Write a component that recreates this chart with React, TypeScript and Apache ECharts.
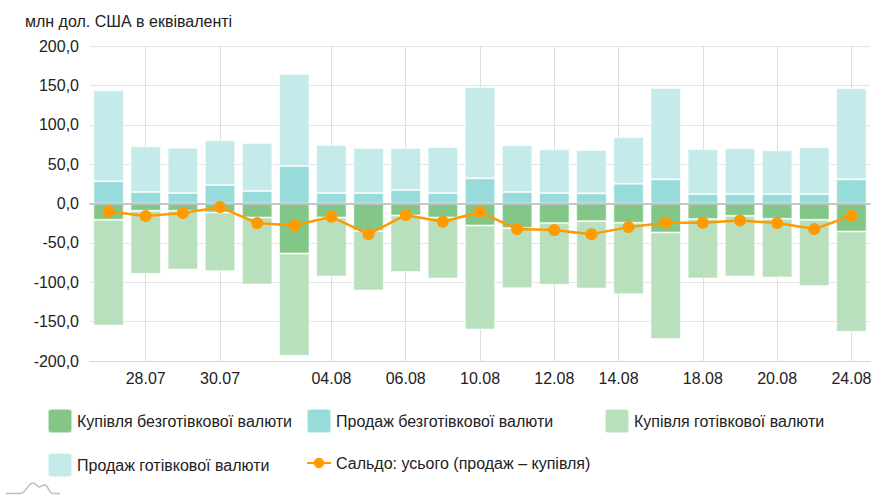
import React, { useEffect, useRef } from "react";
import * as echarts from "echarts";

const categories = [
  "27.07", "28.07", "29.07", "30.07", "31.07", "03.08", "04.08", "05.08", "06.08", "07.08",
  "10.08", "11.08", "12.08", "13.08", "14.08", "17.08", "18.08", "19.08", "20.08", "21.08", "24.08",
];

const noncashBuy = [
  -20.7, -9.3, -9.3, -11.4, -17.8, -63.5, -17.8, -34.7, -15.2, -17.8,
  -27.9, -31.3, -24.9, -22.4, -24.5, -36.8, -19.8, -15.6, -19.4, -20.7, -35.6,
];
const noncashSale = [
  28.2, 14.6, 13.3, 23.5, 15.9, 47.6, 13.3, 13.3, 17.1, 13.3,
  32.0, 14.6, 13.3, 12.9, 25.1, 30.7, 12.1, 12.1, 12.1, 12.1, 30.7,
];
const cashBuy = [
  -134.2, -80.0, -74.5, -74.5, -85.1, -129.9, -74.9, -75.8, -71.9, -77.4,
  -132.1, -76.2, -78.3, -85.5, -90.6, -135.4, -75.4, -77.1, -74.5, -84.2, -127.3,
];
const cashSale = [
  115.5, 58.0, 57.6, 56.7, 60.9, 116.8, 61.0, 57.2, 53.4, 58.4,
  115.9, 59.3, 55.5, 55.0, 59.0, 116.0, 57.1, 58.0, 55.4, 59.3, 115.6,
];
const saldo = [
  -10.2, -16.0, -12.2, -4.6, -24.9, -27.9, -16.9, -38.9, -14.7, -23.2,
  -10.9, -32.5, -33.8, -38.9, -30.0, -24.5, -24.5, -21.6, -24.9, -32.5, -15.6,
];

// x-axis tick labels and the axis values (category index scale) where they sit
const xTickLabels = ["28.07", "30.07", "04.08", "06.08", "10.08", "12.08", "14.08", "18.08", "20.08", "24.08"];
const xTickValues = [1, 3, 6, 8, 10, 12, 13.73, 16, 18, 20];

const seriesNames = [
  "Купівля безготівкової валюти",
  "Продаж безготівкової валюти",
  "Купівля готівкової валюти",
  "Продаж готівкової валюти",
  "Сальдо: усього (продаж – купівля)",
];

const FONT = "'Liberation Sans', Arial, sans-serif";
const TEXT = "#222";
const SQUARE =
  "path://M3,0 H21 A3,3 0 0 1 24,3 V21 A3,3 0 0 1 21,24 H3 A3,3 0 0 1 0,21 V3 A3,3 0 0 1 3,0 Z";

let logoRegistered = false;

export default function App() {
  const ref = useRef<HTMLDivElement>(null);

  useEffect(() => {
    if (!ref.current) return;
    if (!logoRegistered) {
      echarts.graphic.registerShape(
        "logo",
        echarts.graphic.extendPath(
          "M6 23.5 L20 23.5 C26 23.5 28 13 33 13 C36 13 37 17 39 17 C41 17 42 15 45 15 C48 15 49 23.5 53 23.5 L60 23.5",
          {}
        )
      );
      logoRegistered = true;
    }
    const chart = echarts.init(ref.current, null, { renderer: "svg" });

    const legendBase = {
      padding: 0,
      itemWidth: 24,
      itemHeight: 24,
      selectedMode: false,
      textStyle: { fontSize: 16, color: TEXT, fontFamily: FONT },
    };

    const barBorder = { borderColor: "rgba(255,255,255,0.55)", borderWidth: 1 };

    chart.setOption({
      animation: false,
      textStyle: { fontFamily: FONT },
      title: {
        text: "млн дол. США в еквіваленті",
        left: 25,
        top: 13,
        padding: 0,
        textStyle: { fontSize: 16, fontWeight: "normal", color: TEXT, fontFamily: FONT },
      },
      legend: [
        { ...legendBase, left: 47, top: 408, data: [{ name: seriesNames[0], icon: SQUARE }] },
        { ...legendBase, left: 306, top: 408, data: [{ name: seriesNames[1], icon: SQUARE }] },
        { ...legendBase, left: 604, top: 408, data: [{ name: seriesNames[2], icon: SQUARE }] },
        { ...legendBase, left: 47, top: 452, data: [{ name: seriesNames[3], icon: SQUARE }] },
        { ...legendBase, left: 306, top: 455, itemHeight: 13, data: [{ name: seriesNames[4] }] },
      ],
      grid: { left: 90, right: 21, top: 46, bottom: 139, containLabel: false },
      xAxis: [
        {
          type: "category",
          data: categories,
          z: 4,
          axisLine: { show: true, onZero: true, lineStyle: { color: "rgba(190,190,190,0.85)", width: 2 } },
          axisTick: { show: false },
          axisLabel: { show: false },
          splitLine: { show: false },
        },
        {
          type: "value",
          position: "bottom",
          min: -0.5,
          max: 20.5,
          axisLine: { show: true, onZero: false, lineStyle: { color: "#d6d6d6", width: 1 } },
          axisTick: { show: false, customValues: xTickValues },
          axisLabel: {
            customValues: xTickValues,
            margin: 9,
            fontSize: 16,
            color: TEXT,
            fontFamily: FONT,
            formatter: (v: number) => {
              const i = xTickValues.findIndex((t) => Math.abs(t - v) < 1e-6);
              return i >= 0 ? xTickLabels[i] : "";
            },
          },
          splitLine: { show: true, lineStyle: { color: "#dedede", width: 1 } },
        },
      ],
      yAxis: {
        type: "value",
        min: -200,
        max: 200,
        interval: 50,
        axisLine: { show: false },
        axisTick: { show: false },
        axisLabel: {
          margin: 11,
          fontSize: 16,
          color: TEXT,
          fontFamily: FONT,
          formatter: (v: number) => v.toFixed(1).replace(".", ","),
        },
        splitLine: { lineStyle: { color: "#e3e3e3", width: 1 } },
      },
      series: [
        {
          name: seriesNames[0],
          type: "bar",
          stack: "total",
          barCategoryGap: "18%",
          data: noncashBuy,
          itemStyle: { color: "#83c788", ...barBorder },
          z: 2,
        },
        {
          name: seriesNames[1],
          type: "bar",
          stack: "total",
          barCategoryGap: "18%",
          data: noncashSale,
          itemStyle: { color: "#98dbdb", ...barBorder },
          z: 2,
        },
        {
          name: seriesNames[2],
          type: "bar",
          stack: "total",
          barCategoryGap: "18%",
          data: cashBuy,
          itemStyle: { color: "#b8e0bc", ...barBorder },
          z: 2,
        },
        {
          name: seriesNames[3],
          type: "bar",
          stack: "total",
          barCategoryGap: "18%",
          data: cashSale,
          itemStyle: { color: "#c4eaea", ...barBorder },
          z: 2,
        },
        {
          name: seriesNames[4],
          type: "line",
          data: saldo,
          symbol: "circle",
          symbolSize: 12,
          lineStyle: { color: "#ff9a00", width: 2.5 },
          itemStyle: { color: "#ff9a00" },
          z: 6,
        },
      ],
      graphic: [
        {
          type: "logo",
          x: 0,
          y: 470,
          silent: true,
          style: { fill: "none", stroke: "#bdbdbd", lineWidth: 1.5 },
        },
      ],
    });

    return () => chart.dispose();
  }, []);

  return (
    <div
      ref={ref}
      style={{ position: "fixed", left: 0, top: 0, width: 891, height: 500, background: "#fff" }}
    />
  );
}
